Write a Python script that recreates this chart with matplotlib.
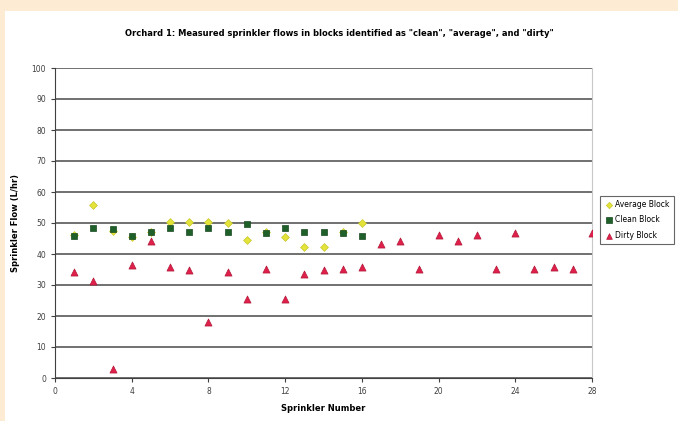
import matplotlib
matplotlib.use("Agg")
import matplotlib.pyplot as plt
from matplotlib.patches import Rectangle

# sprinkler numbers and flows
avg_x = list(range(1, 17))
avg_y = [46, 55.8, 47.5, 45.5, 47, 50.2, 50.4, 50.4, 50, 44.5, 47, 45.6, 42.4, 42.4, 47, 50]

clean_x = list(range(1, 17))
clean_y = [45.8, 48.3, 48.1, 45.8, 47.0, 48.3, 47.1, 48.3, 47.1, 49.6, 46.7, 48.3, 47.0, 47.0, 46.7, 45.8]

dirty_x = list(range(1, 29))
dirty_y = [34.3, 31.4, 2.9, 36.4, 44.1, 35.9, 34.8, 18.1, 34.1, 25.5, 35.2, 25.5, 33.4, 34.8,
           35.2, 35.9, 43.2, 44.3, 35.1, 46.2, 44.3, 46.2, 35.1, 46.7, 35.2, 35.9, 35.2, 46.7]

xticks = [0, 4, 8, 12, 16, 20, 24, 28]
yticks = list(range(0, 101, 10))

fig = plt.figure(figsize=(6.78, 4.21), dpi=100)
fig.patch.set_facecolor('#FDEBD3')
# white chart area, peach strip left and top
bg = Rectangle((5 / 678, 0), 1, 410 / 421, transform=fig.transFigure,
               facecolor='white', edgecolor='none', zorder=-5)
fig.patches.append(bg)

ax = fig.add_axes([55 / 678, 1 - 378 / 421, 537 / 678, 310 / 421])
ax.set_zorder(2)
ax.set_facecolor('white')

ax.scatter(avg_x, avg_y, marker='D', s=16, color='#E3E33A', edgecolors='#C8C830',
           linewidths=0.5, label='Average Block', zorder=3)
ax.scatter(clean_x, clean_y, marker='s', s=24, color='#1F5F2A', edgecolors='#174A20',
           linewidths=0.5, label='Clean Block', zorder=4)
ax.scatter(dirty_x, dirty_y, marker='^', s=26, color='#E0204A', edgecolors='#B01838',
           linewidths=0.5, label='Dirty Block', zorder=4)

ax.set_xlim(0, 28)
ax.set_ylim(0, 100)
ax.set_xticks(xticks)
ax.set_yticks(yticks)
ax.yaxis.grid(True, color='#707070', linewidth=1.4)
ax.set_axisbelow(True)
ax.spines['top'].set_visible(False)
ax.spines['right'].set_color('#C8C8C8')
ax.spines['left'].set_color('#404040')
ax.spines['bottom'].set_color('#404040')
ax.tick_params(labelsize=5.5, length=3, colors='#404040')

ax.set_xlabel('Sprinkler Number', fontsize=6, fontweight='bold', labelpad=6)
ax.set_ylabel('Sprinkler Flow (L/hr)', fontsize=6, fontweight='bold', labelpad=8)
fig.text(0.5, 0.92, 'Orchard 1: Measured sprinkler flows in blocks identified as "clean", '
         '"average", and "dirty"', ha='center', va='center', fontsize=6, fontweight='bold',
         zorder=3)

leg = ax.legend(loc='center left', bbox_to_anchor=(1.008, 0.51), fontsize=5.5,
                frameon=True, fancybox=False, borderpad=0.6, handletextpad=0.3,
                labelspacing=0.8, handlelength=1, markerscale=0.8)
leg.get_frame().set_edgecolor('#404040')
leg.get_frame().set_linewidth(0.8)

fig.savefig('out.png', dpi=100, facecolor=fig.get_facecolor())
